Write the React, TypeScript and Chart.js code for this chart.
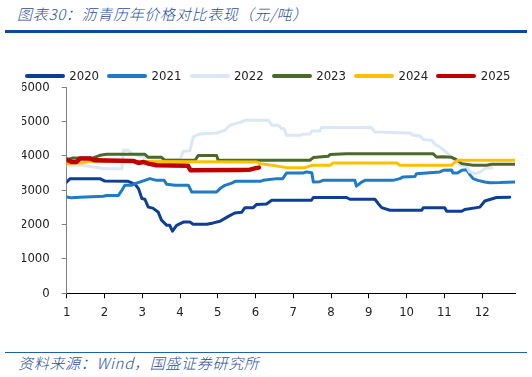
import React, { useEffect, useRef } from "react";
import { Chart, registerables } from "chart.js";

Chart.register(...registerables);

// ---------- data ----------
const seriesNames = ["2020", "2021", "2022", "2023", "2024", "2025"];

// x = month position (1 = start of January), y = price (元/吨)
const m2020 = [1.0, 1.09, 1.88, 2.01, 2.63, 2.81, 2.9, 2.99, 3.07, 3.16, 3.28, 3.42, 3.51, 3.65, 3.73, 3.8, 3.91, 4.09, 4.26, 4.35, 4.71, 4.88, 5.06, 5.28, 5.45, 5.63, 5.72, 5.94, 6.03, 6.29, 6.43, 7.48, 7.53, 8.41, 8.5, 9.16, 9.25, 9.34, 9.56, 10.4, 10.44, 11.01, 11.06, 11.46, 11.54, 11.94, 12.07, 12.38, 12.73];
const p2020 = [3240, 3340, 3340, 3270, 3260, 3175, 3050, 2760, 2740, 2510, 2480, 2370, 2130, 1980, 1980, 1810, 1980, 2075, 2075, 2010, 2010, 2050, 2100, 2240, 2340, 2360, 2495, 2495, 2590, 2600, 2710, 2710, 2790, 2790, 2740, 2740, 2610, 2495, 2420, 2420, 2490, 2490, 2390, 2390, 2440, 2510, 2690, 2790, 2800];

const m2021 = [1.0, 1.13, 1.35, 1.97, 2.06, 2.37, 2.46, 2.54, 2.72, 2.85, 3.07, 3.2, 3.38, 3.58, 3.65, 3.87, 4.22, 4.31, 4.97, 5.06, 5.19, 5.37, 5.46, 6.12, 6.2, 6.56, 6.72, 6.82, 7.26, 7.35, 7.49, 7.53, 7.7, 7.79, 8.63, 8.67, 8.81, 8.9, 9.64, 9.82, 9.91, 10.22, 10.26, 10.88, 10.97, 11.19, 11.23, 11.35, 11.46, 11.59, 11.68, 11.76, 11.89, 12.07, 12.2, 12.47, 12.87];
const p2021 = [2805, 2780, 2800, 2825, 2850, 2850, 3000, 3145, 3150, 3210, 3290, 3340, 3290, 3290, 3175, 3150, 3150, 2950, 2950, 3050, 3145, 3210, 3260, 3260, 3290, 3340, 3340, 3505, 3505, 3535, 3510, 3240, 3250, 3290, 3290, 3120, 3240, 3290, 3290, 3340, 3390, 3400, 3485, 3535, 3582, 3590, 3505, 3505, 3582, 3600, 3450, 3340, 3290, 3243, 3220, 3225, 3243];

const m2022 = [1.0, 1.44, 1.7, 1.97, 2.46, 2.5, 2.63, 2.72, 2.94, 3.07, 3.56, 4.0, 4.09, 4.26, 4.35, 4.53, 4.97, 5.19, 5.32, 5.46, 5.63, 5.72, 6.34, 6.43, 6.6, 6.69, 6.75, 6.82, 7.18, 7.26, 7.44, 7.49, 7.71, 7.75, 9.07, 9.16, 10.09, 10.17, 10.35, 10.44, 10.66, 10.75, 10.88, 11.01, 11.14, 11.28, 11.41, 11.59, 11.67, 11.81, 11.94, 12.07, 12.26];
const p2022 = [3728, 3728, 3680, 3631, 3631, 4165, 4165, 4068, 3990, 3960, 3894, 3894, 4140, 4150, 4553, 4640, 4670, 4748, 4894, 4943, 4990, 5040, 5040, 4894, 4894, 4798, 4798, 4603, 4603, 4632, 4640, 4728, 4728, 4826, 4826, 4699, 4670, 4603, 4590, 4477, 4460, 4340, 4262, 4145, 4020, 3874, 3728, 3700, 3535, 3485, 3530, 3631, 3660];

const m2023 = [1.0, 1.17, 1.7, 1.88, 2.06, 3.07, 3.16, 3.51, 3.6, 4.4, 4.48, 4.97, 5.01, 7.44, 7.53, 7.92, 7.97, 8.41, 10.7, 10.79, 10.97, 11.19, 11.32, 11.46, 11.76, 12.12, 12.25, 12.87];
const p2023 = [3894, 3942, 3942, 4020, 4049, 4049, 3960, 3960, 3874, 3874, 4010, 4010, 3874, 3874, 3952, 3990, 4040, 4068, 4068, 3970, 3980, 3960, 3894, 3777, 3728, 3728, 3760, 3760];

const m2024 = [1.0, 1.44, 1.62, 3.0, 6.03, 6.12, 6.38, 6.82, 7.31, 7.49, 7.97, 8.06, 9.74, 9.82, 11.19, 11.28, 11.36, 12.87];
const p2024 = [3777, 3800, 3850, 3840, 3825, 3777, 3740, 3660, 3660, 3728, 3728, 3796, 3796, 3728, 3728, 3825, 3874, 3874];

const m2025 = [1.0, 1.13, 1.26, 1.35, 1.62, 1.75, 2.76, 2.9, 3.03, 3.16, 3.38, 4.21, 4.28, 5.5, 5.85, 5.98, 6.09];
const p2025 = [3894, 3825, 3825, 3923, 3923, 3874, 3854, 3796, 3825, 3777, 3728, 3715, 3582, 3590, 3600, 3640, 3660];

const monthTicks = [1, 2, 3, 4, 5, 6, 7, 8, 9, 10, 11, 12];
const yTicks = [0, 1000, 2000, 3000, 4000, 5000, 6000];
const xMin = 1;
const xMax = 12.87;

const seriesMonths = [m2020, m2021, m2022, m2023, m2024, m2025];
const seriesPrices = [p2020, p2021, p2022, p2023, p2024, p2025];

// ---------- styles ----------
const seriesColors = ["#0C3F95", "#1F7BC6", "#DBE7F6", "#4B6A2A", "#FFC000", "#C00000"];
const seriesWidths = [3, 3, 3, 3, 3, 4.5];
const legendBarHeights = [3.5, 3.5, 3.5, 3.5, 3.5, 4.5];
const FONT = "'DejaVu Sans Condensed', 'DejaVu Sans', sans-serif";
const TEXT_COLOR = "#222222";

export default function App() {
  const ref = useRef<HTMLCanvasElement>(null);

  useEffect(() => {
    if (!ref.current) return;
    const datasets = seriesNames.map((name, i) => ({
      label: name,
      data: seriesMonths[i].map((m, j) => ({ x: m, y: seriesPrices[i][j] })),
      borderColor: seriesColors[i],
      backgroundColor: seriesColors[i],
      borderWidth: seriesWidths[i],
      pointRadius: 0,
      pointHoverRadius: 0,
      tension: 0,
      fill: false,
      order: seriesNames.length - i,
      borderJoinStyle: "round" as const,
      borderCapStyle: "round" as const,
    }));

    const chart = new Chart(ref.current, {
      type: "line",
      data: { datasets },
      options: {
        responsive: false,
        animation: false,
        devicePixelRatio: 1,
        layout: { padding: { left: 22, right: 17, top: 27.3, bottom: 6.7 } },
        plugins: {
          tooltip: { enabled: false },
          legend: { display: false },
        },
        scales: {
          x: {
            type: "linear",
            min: xMin,
            max: xMax,
            afterBuildTicks: (s: any) => {
              s.ticks = monthTicks.map((v) => ({ value: v }));
            },
            afterFit: (s: any) => {
              s.height = 40;
            },
            ticks: {
              autoSkip: false,
              maxRotation: 0,
              padding: 7,
              color: TEXT_COLOR,
              font: { family: FONT, size: 13 },
              callback: (v: any) => String(v),
            },
            grid: { drawOnChartArea: false, drawTicks: true, tickLength: 5, color: "#000000" },
            border: { display: true, color: "#000000", width: 1 },
          },
          y: {
            min: 0,
            max: 6000,
            afterBuildTicks: (s: any) => {
              s.ticks = yTicks.map((v) => ({ value: v }));
            },
            afterFit: (s: any) => {
              s.width = 44.7;
            },
            ticks: {
              autoSkip: false,
              padding: 12,
              color: TEXT_COLOR,
              font: { family: FONT, size: 13 },
              callback: (v: any) => String(v),
            },
            grid: { drawOnChartArea: false, drawTicks: true, tickLength: 5, color: "#7F7F7F" },
            border: { display: true, color: "#7F7F7F", width: 1 },
          },
        },
      },
    } as any);
    return () => chart.destroy();
  }, []);

  const textBase: React.CSSProperties = {
    position: "absolute",
    fontFamily: "'Noto Sans CJK SC', sans-serif",
    fontStyle: "italic",
    fontWeight: 300,
    fontSize: 15,
    lineHeight: "20px",
    letterSpacing: "0.7px",
    whiteSpace: "nowrap",
    color: "#1F4E9E",
  };

  return (
    <div style={{ position: "absolute", left: 0, top: 0, width: 532, height: 377, background: "#ffffff", overflow: "hidden" }}>
      <div style={{ ...textBase, left: 17, top: 3.7 }}>图表30：沥青历年价格对比表现（元/吨）</div>
      <div style={{ position: "absolute", left: 5, top: 30, width: 522, height: 2.5, background: "#0B4A9E" }} />
      <canvas ref={ref} width={532} height={280} style={{ position: "absolute", left: 0, top: 60, width: 532, height: 280 }} />
      <div style={{ position: "absolute", left: 25, top: 67, height: 18, display: "flex" }}>
        {seriesNames.map((name, i) => (
          <div key={name} style={{ width: 82.3, height: 18, display: "flex", alignItems: "center" }}>
            <div
              style={{
                width: 40,
                height: legendBarHeights[i],
                borderRadius: 2,
                background: seriesColors[i],
                marginRight: 4.3,
              }}
            />
            <span style={{ fontFamily: FONT, fontSize: 13, lineHeight: "18px", color: TEXT_COLOR }}>{name}</span>
          </div>
        ))}
      </div>
      <div style={{ position: "absolute", left: 5, top: 351.7, width: 522, height: 1.5, background: "#1F5FB0" }} />
      <div style={{ ...textBase, left: 18, top: 352.5 }}>资料来源：Wind，国盛证券研究所</div>
    </div>
  );
}
